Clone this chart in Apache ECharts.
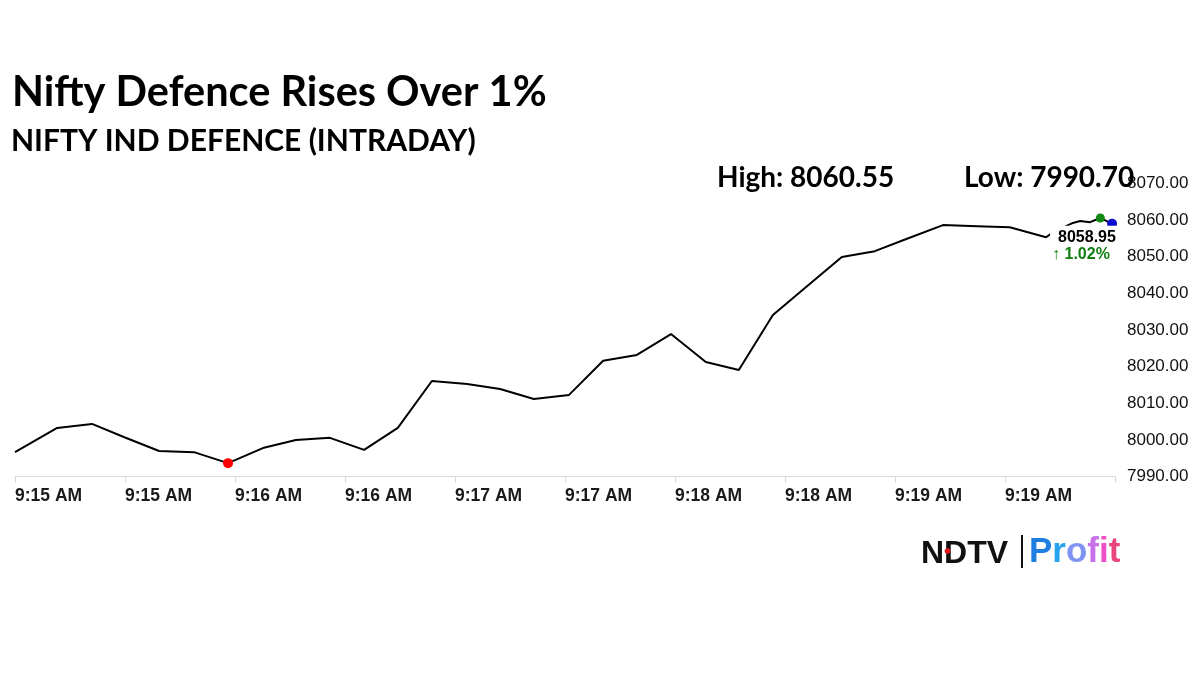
<!DOCTYPE html>
<html><head><meta charset="utf-8">
<script src="https://cdn.jsdelivr.net/npm/echarts@6/dist/echarts.min.js"></script>
<style>html,body{margin:0;padding:0;background:#fff}#c{width:1200px;height:675px}</style>
</head><body><div id="c"></div>
<script>
const titleText = 'Nifty Defence Rises Over 1%';
const subtitleText = 'NIFTY IND DEFENCE (INTRADAY)';
const dayHigh = '8060.55';
const dayLow = '7990.70';
const lastPriceText = '8058.95';
const changePct = '1.02%';
const xTickLabels = ['9:15 AM','9:15 AM','9:16 AM','9:16 AM','9:17 AM','9:17 AM','9:18 AM','9:18 AM','9:19 AM','9:19 AM',''];
// seconds after 9:15:00
const secondsFromOpen = [0, 11.5, 21, 30, 39.3, 48.8, 58.1, 67.6, 76.6, 85.9, 95.2, 104.4, 113.7, 123.3, 132.3, 141.5, 151.1, 160.4, 169.6, 178.9, 188.4, 197.4, 206.7, 216, 225.5, 234.5, 243.8, 253.1, 262.4, 271.3, 281.2, 282.8, 288.5, 290.5, 293.2, 296, 299.2];
const indexValues = [7996.7, 8003.3, 8004.4, 8000.7, 7997.0, 7996.7, 7993.7, 7997.8, 8000.0, 8000.6, 7997.3, 8003.3, 8016.1, 8015.3, 8013.9, 8011.2, 8012.3, 8021.6, 8023.2, 8028.9, 8021.3, 8019.1, 8034.1, 8041.9, 8049.9, 8051.5, 8055.1, 8058.6, 8058.3, 8058.0, 8055.3, 8056.4, 8059.2, 8059.7, 8059.4, 8060.55, 8058.95];
const yMin = 7990, yMax = 8070, yStep = 10;
const xMin = 0, xMax = 300, xStep = 30;

const pts = secondsFromOpen.map((t, i) => [t, indexValues[i]]);
let minI = 0, maxI = 0;
indexValues.forEach((v, i) => { if (v < indexValues[minI]) minI = i; if (v > indexValues[maxI]) maxI = i; });
const lastI = indexValues.length - 1;

const chart = echarts.init(document.getElementById('c'), null, {renderer: 'canvas'});
const headFont = 'Lato';
const logoFont = '"Liberation Sans"';
chart.setOption({
  backgroundColor: '#ffffff',
  animation: false,
  grid: {left: 15, right: 85, top: 183.3, bottom: 198.3, containLabel: false},
  xAxis: {
    type: 'value', min: xMin, max: xMax, interval: xStep,
    axisLine: {show: true, lineStyle: {color: '#d9d9d9', width: 1}},
    axisTick: {show: true, length: 6, lineStyle: {color: '#d9d9d9'}},
    splitLine: {show: false},
    axisLabel: {
      show: true, margin: 10, align: 'left', showMaxLabel: true,
      color: '#1a1a1a', fontFamily: 'Liberation Sans', fontWeight: 'bold', fontSize: 17.5,
      formatter: (v) => xTickLabels[Math.round((v - xMin) / xStep)] || ''
    }
  },
  yAxis: {
    type: 'value', position: 'right', min: yMin, max: yMax, interval: yStep,
    axisLine: {show: false}, axisTick: {show: false}, splitLine: {show: false},
    axisLabel: {
      margin: 12, color: '#111', fontFamily: 'Liberation Sans', fontSize: 17,
      formatter: (v) => v.toFixed(2)
    }
  },
  series: [
    {type: 'line', data: pts, showSymbol: false, symbol: 'none', z: 2,
     lineStyle: {color: '#000', width: 2}},
    {type: 'scatter', z: 4, symbolSize: 10, itemStyle: {color: '#ff0000', opacity: 1}, data: [pts[minI]]},
    {type: 'scatter', z: 4, symbolSize: 9, itemStyle: {color: '#138a13', opacity: 1}, data: [pts[maxI]]},
    {type: 'scatter', z: 5, symbolSize: 10, itemStyle: {color: '#0a0acc', opacity: 1}, data: [pts[lastI]],
     label: {
       show: true, position: [-57, 7], align: 'left', verticalAlign: 'top', opacity: 1,
       backgroundColor: '#fff', padding: [3, 4, 2, 2],
       formatter: () => '{a|' + lastPriceText + '}\n{b|\u2191 ' + changePct + '}',
       rich: {
         a: {fontFamily: 'Liberation Sans', fontWeight: 'bold', fontSize: 16, color: '#000', lineHeight: 17, padding: [0, 0, 0, 6]},
         b: {fontFamily: 'Liberation Sans', fontWeight: 'bold', fontSize: 16, color: '#0f7d0f', lineHeight: 17}
       }
     }}
  ],
  graphic: [
    {type: 'text', left: 12, top: 72, style: {text: titleText, font: 'bold 41.5px ' + headFont, fill: '#000'}},
    {type: 'text', left: 11, top: 126, style: {text: subtitleText, font: 'bold 30px ' + headFont, fill: '#000'}},
    {type: 'text', left: 717, top: 164, style: {text: 'High: ' + dayHigh, font: 'bold 28px ' + headFont, fill: '#000'}},
    {type: 'text', left: 964, top: 164, style: {text: 'Low: ' + dayLow, font: 'bold 28px ' + headFont, fill: '#000'}, z: 10},
    {type: 'text', left: 921, top: 538, style: {text: 'NDTV', font: 'bold 32px ' + logoFont, fill: '#111'}},
    {type: 'circle', shape: {cx: 947.5, cy: 551, r: 2.8}, style: {fill: '#e8141b'}},
    {type: 'rect', shape: {x: 1021, y: 535, width: 2, height: 33}, style: {fill: '#111'}},
    {type: 'text', left: 1029, top: 535, style: {
      text: '{p|P}{r|r}{o|o}{f|f}{i|i}{t|t}',
      font: 'bold 35px ' + logoFont,
      rich: {
        p: {fill: '#1e7fe0', font: 'bold 35px ' + logoFont},
        r: {fill: '#27a3f0', font: 'bold 35px ' + logoFont},
        o: {fill: '#7f93f2', font: 'bold 35px ' + logoFont},
        f: {fill: '#c670ea', font: 'bold 35px ' + logoFont},
        i: {fill: '#ee50c8', font: 'bold 35px ' + logoFont},
        t: {fill: '#e8457c', font: 'bold 35px ' + logoFont}
      }
    }}
  ]
});
</script></body></html>
